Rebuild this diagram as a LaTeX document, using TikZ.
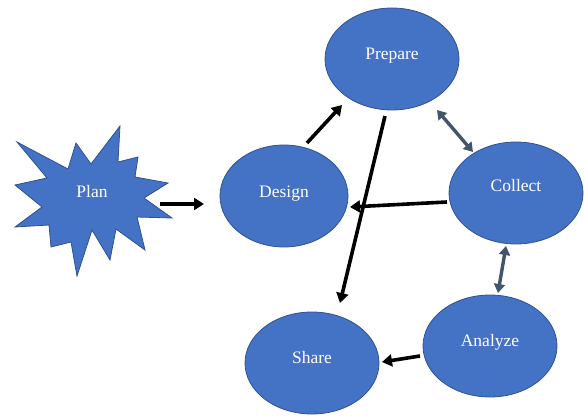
\documentclass[tikz,border=0pt]{standalone}
\usepackage{fontspec}
\setmainfont{Liberation Serif}
\usetikzlibrary{shapes.geometric,arrows.meta,calc}
\definecolor{nodeblue}{HTML}{4472C4}
\definecolor{nodeedge}{HTML}{2F528F}
\definecolor{slate}{HTML}{44546A}
\begin{document}
\begin{tikzpicture}[x=1pt,y=-1pt,
  ell/.style={ellipse, fill=nodeblue, draw=nodeedge, line width=0.8pt,
    minimum width=134pt, minimum height=102pt, inner sep=0pt},
  lbl/.style={text=white, anchor=base, inner sep=0pt,
    font=\fontsize{17.5}{20}\selectfont},
  arr/.style={line width=3.6pt, black, -{Triangle[length=10pt,width=12pt]}},
  dbl/.style={line width=3.4pt, slate, {Triangle[length=9pt,width=11pt]}-{Triangle[length=9pt,width=11pt]}}]
\useasboundingbox (0,0) rectangle (584,417);
% star
\filldraw[fill=nodeblue, draw=nodeedge, line width=0.8pt]
  (17,142) -- (68,169) -- (76,143) -- (91,164) -- (120,126) -- (118,162)
  -- (138,157) -- (135,177) -- (168,183) -- (144,198) -- (172,218)
  -- (137,217) -- (145,250) -- (116,229) -- (110,260) -- (92,230)
  -- (77,276) -- (71,242) -- (51,247) -- (49,225) -- (15,227)
  -- (42,207) -- (15,185) -- (47,178) -- cycle;
\node[lbl] (plan) at (92,197) {Plan};
\coordinate (planE) at (160,204);
% ellipses
\node[ell] (prepare) at (392,59) {};
\node[ell, minimum width=128pt] (design) at (284,196) {};
\node[ell] (collect) at (516,193) {};
\node[ell] (analyze) at (490,346) {};
\node[ell] (share) at (312,363) {};
\node[lbl] at ($(prepare)+(0,1)$) {Prepare};
\node[lbl] at ($(design)+(0,1)$) {Design};
\node[lbl] at ($(collect)+(0,-1)$) {Collect};
\node[lbl] at ($(analyze)+(0,0)$) {Analyze};
\node[lbl] at ($(share)+(0,0)$) {Share};
% connectors
\draw[arr] (planE) -- ($(design)+(-80,8)$);
\draw[arr] ($(design)+(23,-53)$) -- ($(prepare)+(-50,46)$);
\draw[arr] ($(prepare)+(-7,57)$) -- ($(share)+(28,-60)$);
\draw[arr] ($(collect)+(-69,9)$) -- ($(design)+(66,11)$);
\draw[dbl] ($(prepare)+(45,51)$) -- ($(collect)+(-43,-41)$);
\draw[dbl] ($(collect)+(-10,53)$) -- ($(analyze)+(8,-53)$);
\draw[arr] ($(analyze)+(-70,10)$) -- ($(share)+(70,-1)$);
\end{tikzpicture}
\end{document}
